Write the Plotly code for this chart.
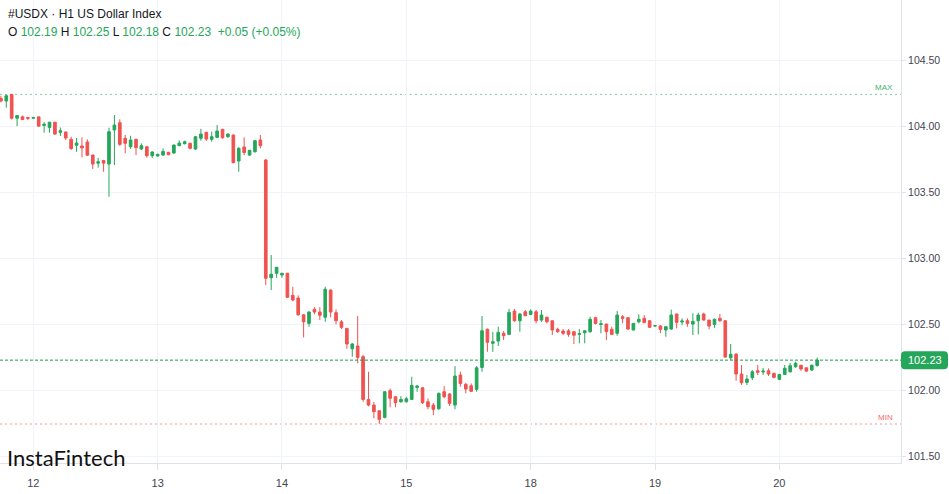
import plotly.graph_objects as go

# ---------------- data (hourly bars, H1) ----------------
bar_index = list(range(-6, 146))   # bar number, 0 = first bar of day 12

open_ = [104.21, 104.19, 104.24, 104.06, 104.07, 104.065,
         104.06, 104.07, 104.005, 103.99, 104.03, 103.953, 103.955, 103.90, 103.855, 103.85,
         103.88, 103.781, 103.72, 103.74, 103.713, 103.971, 104.026, 103.908, 103.844, 103.90,
         103.827, 103.844, 103.776,
         103.774, 103.781, 103.802, 103.797, 103.852, 103.867, 103.87, 103.827, 103.908, 103.953,
         103.90, 103.915, 103.976, 103.92, 103.933, 103.736, 103.842, 103.781, 103.806, 103.895,
         103.744, 102.853, 102.887,
         102.874, 102.887, 102.72, 102.70, 102.573, 102.508, 102.614, 102.594, 102.554, 102.76,
         102.589, 102.52, 102.47, 102.316, 102.337, 102.256, 101.933, 101.89, 101.847, 101.797,
         101.999, 101.953, 101.915,
         101.915, 101.933, 102.024, 102.021, 101.915, 101.89, 101.862, 101.991, 101.974, 101.89,
         102.117, 102.047, 102.036, 102.009, 102.175, 102.463, 102.357, 102.374, 102.433, 102.425,
         102.601, 102.528, 102.596,
         102.576, 102.596, 102.533, 102.554, 102.528, 102.463, 102.45, 102.452, 102.445, 102.425,
         102.437, 102.445, 102.551, 102.50, 102.503, 102.463, 102.433, 102.558, 102.551, 102.458,
         102.52, 102.546, 102.528,
         102.488, 102.488, 102.458, 102.465, 102.579, 102.518, 102.528, 102.503, 102.528, 102.579,
         102.533, 102.50, 102.546, 102.528, 102.248, 102.276, 102.125, 102.062, 102.097, 102.15,
         102.14, 102.15, 102.13,
         102.085, 102.122, 102.142, 102.18, 102.191, 102.172, 102.155, 102.19]

high = [104.23, 104.24, 104.24, 104.08, 104.08, 104.07,
        104.07, 104.07, 104.03, 104.03, 104.03, 103.99, 103.96, 103.92, 103.91, 103.915,
        103.90, 103.785, 103.76, 103.745, 103.988, 104.084, 104.051, 103.933, 103.927, 103.905,
        103.87, 103.85, 103.81,
        103.79, 103.83, 103.805, 103.86, 103.892, 103.89, 103.875, 103.925, 103.98, 103.958,
        103.958, 104.008, 103.98, 103.945, 103.935, 103.84, 103.915, 103.82, 103.895, 103.933,
        103.75, 103.025, 102.935,
        102.89, 102.89, 102.785, 102.72, 102.575, 102.60, 102.63, 102.63, 102.785, 102.765,
        102.614, 102.533, 102.475, 102.36, 102.564, 102.269, 102.142, 101.915, 101.85, 101.995,
        102.016, 101.955, 101.958,
        101.953, 102.104, 102.042, 102.025, 101.941, 101.906, 101.985, 102.034, 101.98, 102.185,
        102.142, 102.059, 102.054, 102.185, 102.564, 102.47, 102.445, 102.483, 102.45, 102.617,
        102.617, 102.585, 102.609,
        102.614, 102.609, 102.609, 102.56, 102.53, 102.475, 102.465, 102.465, 102.45, 102.465,
        102.455, 102.558, 102.558, 102.533, 102.505, 102.483, 102.601, 102.571, 102.555, 102.51,
        102.576, 102.571, 102.53,
        102.495, 102.495, 102.485, 102.612, 102.58, 102.546, 102.546, 102.584, 102.589, 102.589,
        102.535, 102.545, 102.579, 102.53, 102.352, 102.28, 102.193, 102.117, 102.155, 102.193,
        102.172, 102.168, 102.135,
        102.125, 102.193, 102.21, 102.218, 102.195, 102.175, 102.198, 102.25]

low = [104.18, 104.14, 104.05, 104.00, 104.045, 104.045,
       104.055, 103.995, 103.95, 103.95, 103.935, 103.925, 103.895, 103.82, 103.806, 103.764,
       103.776, 103.676, 103.686, 103.655, 103.466, 103.706, 103.85, 103.795, 103.827, 103.781,
       103.82, 103.761, 103.759,
       103.77, 103.774, 103.78, 103.79, 103.85, 103.862, 103.825, 103.82, 103.89, 103.887,
       103.882, 103.908, 103.905, 103.912, 103.72, 103.655, 103.781, 103.775, 103.80, 103.832,
       102.798, 102.76, 102.853,
       102.853, 102.70, 102.675, 102.566, 102.402, 102.483, 102.577, 102.533, 102.52, 102.554,
       102.50, 102.465, 102.316, 102.256, 102.206, 101.915, 101.88, 101.79, 101.747, 101.79,
       101.873, 101.873, 101.908,
       101.91, 101.93, 101.991, 101.898, 101.858, 101.815, 101.855, 101.941, 101.883, 101.858,
       102.029, 101.979, 101.99, 101.991, 102.142, 102.293, 102.293, 102.337, 102.382, 102.42,
       102.52, 102.445, 102.564,
       102.57, 102.508, 102.52, 102.508, 102.42, 102.437, 102.42, 102.407, 102.352, 102.357,
       102.357, 102.437, 102.50, 102.433, 102.382, 102.42, 102.415, 102.508, 102.458, 102.455,
       102.508, 102.508, 102.475,
       102.485, 102.433, 102.407, 102.46, 102.47, 102.495, 102.483, 102.42, 102.425, 102.53,
       102.463, 102.475, 102.52, 102.25, 102.231, 102.074, 102.042, 102.042, 102.079, 102.117,
       102.117, 102.11, 102.092,
       102.079, 102.12, 102.135, 102.172, 102.15, 102.14, 102.147, 102.18]

close = [104.19, 104.23, 104.06, 104.08, 104.05, 104.06,
         104.065, 104.00, 104.015, 104.03, 103.94, 103.965, 103.91, 103.83, 103.872, 103.835,
         103.78, 103.713, 103.73, 103.72, 103.958, 104.008, 103.862, 103.87, 103.895, 103.837,
         103.852, 103.776, 103.804,
         103.787, 103.809, 103.784, 103.857, 103.872, 103.882, 103.832, 103.92, 103.94, 103.902,
         103.92, 103.963, 103.912, 103.94, 103.723, 103.832, 103.80, 103.817, 103.89, 103.852,
         102.849, 102.879, 102.932,
         102.887, 102.705, 102.685, 102.573, 102.52, 102.594, 102.594, 102.569, 102.766, 102.594,
         102.528, 102.478, 102.352, 102.352, 102.251, 101.933, 101.89, 101.84, 101.782, 101.991,
         101.941, 101.908, 101.933,
         101.938, 102.039, 102.034, 101.908, 101.878, 101.858, 101.979, 101.953, 101.903, 102.11,
         102.054, 102.011, 101.994, 102.172, 102.452, 102.365, 102.369, 102.44, 102.415, 102.591,
         102.528, 102.579, 102.566,
         102.601, 102.528, 102.571, 102.52, 102.458, 102.445, 102.433, 102.425, 102.418, 102.43,
         102.452, 102.539, 102.508, 102.505, 102.445, 102.425, 102.571, 102.546, 102.465, 102.508,
         102.539, 102.515, 102.478,
         102.49, 102.463, 102.483, 102.571, 102.516, 102.526, 102.508, 102.523, 102.571, 102.533,
         102.488, 102.539, 102.528, 102.253, 102.274, 102.125, 102.059, 102.087, 102.142, 102.138,
         102.147, 102.125, 102.10,
         102.122, 102.168, 102.188, 102.206, 102.163, 102.147, 102.191, 102.23]

day_labels = ["12", "13", "14", "15", "18", "19", "20"]
day_first_bar = [0, 23, 46, 69, 92, 115, 138]
price_ticks = [101.5, 102.0, 102.5, 103.0, 103.5, 104.0, 104.5]
title_text = "#USDX \u00b7 H1 US Dollar Index"
change_text = "+0.05 (+0.05%)"
logo_text = "InstaFintech"

# ---------------- styles ----------------
UP = "#26a65b"
DOWN = "#ef5350"
GRID = "#f0f3fa"
AXIS = "#e0e3eb"
TXT = "#131722"
TICK_TXT = "#434651"
FONT = "Liberation Sans, Arial, sans-serif"

fig = go.Figure(go.Candlestick(
    x=bar_index, open=open_, high=high, low=low, close=close,
    increasing=dict(line=dict(color=UP, width=1), fillcolor=UP),
    decreasing=dict(line=dict(color=DOWN, width=1), fillcolor=DOWN),
    whiskerwidth=0, hoverinfo="skip", showlegend=False,
))

max_high = max(high)
min_low = min(low)
last_close = close[-1]

fig.update_layout(
    width=949, height=494,
    margin=dict(l=0, r=48, t=0, b=31),
    paper_bgcolor="white", plot_bgcolor="white",
    font=dict(family=FONT, color=TXT),
    xaxis=dict(
        range=[-6.16, 160.5], tickmode="array", tickvals=day_first_bar, ticktext=day_labels,
        showgrid=True, gridcolor=GRID, gridwidth=1, showline=True, linecolor=AXIS,
        ticks="outside", ticklen=6, tickcolor=AXIS, zeroline=False, ticklabelstandoff=4,
        tickfont=dict(size=11, color=TICK_TXT, family=FONT),
        rangeslider=dict(visible=False), fixedrange=True,
    ),
    yaxis=dict(
        side="right", range=[101.452, 104.954], tickmode="array", tickvals=price_ticks,
        tickformat=".2f", showgrid=True, gridcolor=GRID, gridwidth=1, showline=True,
        linecolor=AXIS, ticks="outside", ticklen=4, tickcolor=AXIS, zeroline=False,
        tickfont=dict(size=10.5, color=TICK_TXT, family=FONT), fixedrange=True,
    ),
)

shapes = [
    dict(type="line", xref="paper", yref="y", x0=0, x1=1, y0=max_high, y1=max_high,
         line=dict(color="rgba(38,166,91,0.55)", width=1, dash="2px,3px"), layer="below"),
    dict(type="line", xref="paper", yref="y", x0=0, x1=1, y0=min_low, y1=min_low,
         line=dict(color="rgba(239,83,80,0.6)", width=1, dash="2px,3px"), layer="below"),
    dict(type="line", xref="paper", yref="y", x0=0, x1=1, y0=last_close, y1=last_close,
         line=dict(color="#1f9a52", width=1, dash="3px,2px"), layer="above"),
    dict(type="path", xref="paper", yref="y", xsizemode="pixel", ysizemode="pixel",
         xanchor=1, yanchor=last_close,
         path="M 4,-9 L 43,-9 Q 47,-9 47,-5 L 47,5 Q 47,9 43,9 L 4,9 Q 0,9 0,5 L 0,-5 Q 0,-9 4,-9 Z",
         fillcolor=UP, line=dict(width=0), layer="above"),
]
fig.update_layout(shapes=shapes)

def val(v):
    return f"<span style='color:{UP}'>{v:.2f}</span>"

ohlc_line = (f"O {val(open_[-1])} H {val(high[-1])} L {val(low[-1])} C {val(close[-1])}"
             f"  <span style='color:{UP}'>{change_text}</span>")

annotations = [
    dict(text=title_text, xref="paper", yref="paper", x=0, y=1, xanchor="left", yanchor="middle",
         xshift=6, yshift=-14, showarrow=False, font=dict(size=12, color=TXT, family=FONT)),
    dict(text=ohlc_line, xref="paper", yref="paper", x=0, y=1, xanchor="left", yanchor="middle",
         xshift=6, yshift=-32, showarrow=False, font=dict(size=12, color=TXT, family=FONT)),
    dict(text="MAX", xref="paper", yref="y", x=1, y=max_high, xanchor="right", yanchor="bottom",
         xshift=-6, yshift=0, showarrow=False, font=dict(size=8, color="rgba(38,166,91,0.9)", family=FONT)),
    dict(text="MIN", xref="paper", yref="y", x=1, y=min_low, xanchor="right", yanchor="bottom",
         xshift=-6, yshift=0, showarrow=False, font=dict(size=8, color="rgba(239,83,80,0.9)", family=FONT)),
    dict(text=f"{last_close:.2f}", xref="paper", yref="y", x=1, y=last_close, xanchor="center",
         yanchor="middle", xshift=24, showarrow=False,
         font=dict(size=11, color="white", family=FONT)),
    dict(text=logo_text, xref="paper", yref="paper", x=0, y=0, xanchor="left", yanchor="middle",
         xshift=5, yshift=6, showarrow=False, font=dict(size=22, color="#111111", family="Lato")),
]
fig.update_layout(annotations=annotations)

fig.write_html("out.html")
